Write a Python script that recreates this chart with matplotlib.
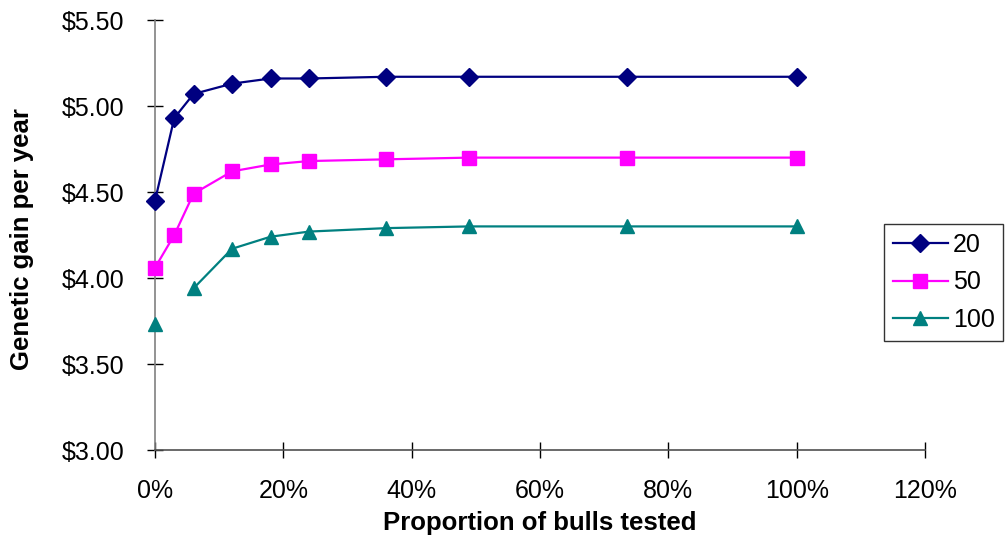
import numpy as np
import matplotlib
matplotlib.use("Agg")
import matplotlib.pyplot as plt
from matplotlib.ticker import FuncFormatter, PercentFormatter

# proportion of bulls tested (fraction) and genetic gain ($/year) per group size
proportion = [0.0, 0.03, 0.06, 0.12, 0.18, 0.24, 0.36, 0.49, 0.735, 1.0]
gain_20 = [4.45, 4.93, 5.07, 5.13, 5.16, 5.16, 5.17, 5.17, 5.17, 5.17]
gain_50 = [4.06, 4.25, 4.49, 4.62, 4.66, 4.68, 4.69, 4.70, 4.70, 4.70]
gain_100 = [3.73, np.nan, 3.94, 4.17, 4.24, 4.27, 4.29, 4.30, 4.30, 4.30]

series = [
    ("20", gain_20, "#000080", "D", 9),
    ("50", gain_50, "#FF00FF", "s", 9.5),
    ("100", gain_100, "#008080", "^", 10),
]

plt.rcParams["font.family"] = ["Liberation Sans", "DejaVu Sans"]

fig = plt.figure(figsize=(10.06, 5.41), dpi=100)
ax = fig.add_axes([0.1541, 0.1682, 0.7654, 0.7948])

for label, vals, color, marker, ms in series:
    ax.plot(proportion, vals, color=color, marker=marker, markersize=ms,
            linewidth=1.6, label=label, clip_on=False, zorder=3)

ax.set_xlim(0, 1.2)
ax.set_ylim(3.0, 5.5)
ax.set_xticks(np.arange(0, 1.21, 0.2))
ax.set_yticks(np.arange(3.0, 5.51, 0.5))
ax.xaxis.set_major_formatter(PercentFormatter(1.0, decimals=0))
ax.yaxis.set_major_formatter(FuncFormatter(lambda v, _: f"${v:.2f}"))

for side in ("top", "right"):
    ax.spines[side].set_visible(False)
ax.spines["left"].set_color("#808080")
ax.spines["bottom"].set_color("#505050")
ax.spines["left"].set_linewidth(1.2)
ax.spines["bottom"].set_linewidth(1.2)
ax.tick_params(direction="inout", length=12, width=1, colors="black",
               labelsize=18)
ax.tick_params(axis="x", pad=15)
ax.tick_params(axis="y", pad=16)

ax.set_xlabel("Proportion of bulls tested", fontsize=18.5, fontweight="bold")
ax.set_ylabel("Genetic gain per year", fontsize=18.5, fontweight="bold")
ax.xaxis.set_label_coords(0.5, -0.142)
ax.yaxis.set_label_coords(-0.157, 0.49)

leg = ax.legend(loc="upper left", bbox_to_anchor=(0.8787, 0.586),
                bbox_transform=fig.transFigure, fontsize=18, frameon=True,
                fancybox=False, edgecolor="black", handlelength=2.2,
                handletextpad=0.2, labelspacing=0.55, borderpad=0.35,
                borderaxespad=0)
leg.get_frame().set_linewidth(1.0)

fig.savefig("out.png", dpi=100)
